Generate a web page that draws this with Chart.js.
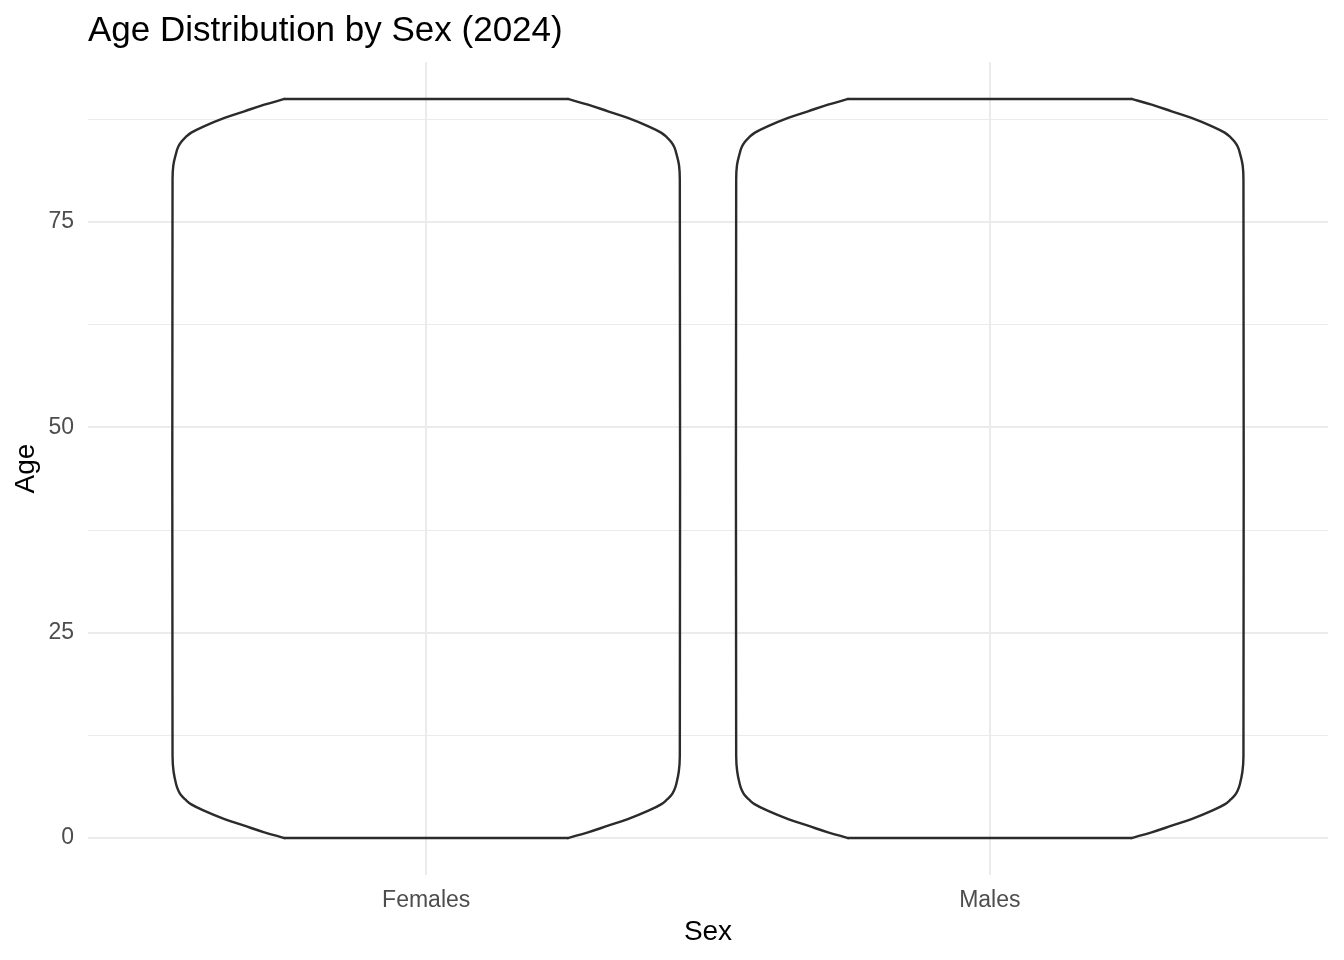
<!DOCTYPE html>
<html>
<head>
<meta charset="utf-8">
<script src="https://cdn.jsdelivr.net/npm/chart.js@4.4.1/dist/chart.umd.min.js"></script>
<style>
  html, body { margin: 0; padding: 0; background: #ffffff; }
  #wrap { width: 1344px; height: 960px; }
</style>
</head>
<body>
<div id="wrap"><canvas id="c" width="1344" height="960"></canvas></div>
<script>
// ---- data ----
const categories = ["Females", "Males"];
const yTickValues = [0, 25, 50, 75];
const yMinorValues = [12.5, 37.5, 62.5, 87.5];

// ages at which violin density (relative width, max = 1) was read
const femaleAges    = [0, 0.7, 1.5, 2.3, 3.3, 4.1, 4.7, 5.2, 5.85, 6.45, 8.1, 10, 80, 81.9, 83.5, 84.15, 84.75, 85.3, 85.9, 86.7, 87.7, 88.5, 89.3, 90];
const femaleDensity = [0.559, 0.638, 0.717, 0.795, 0.874, 0.926, 0.950, 0.966, 0.978, 0.985, 0.996, 1.0, 1.0, 0.997, 0.985, 0.978, 0.966, 0.950, 0.926, 0.874, 0.795, 0.717, 0.638, 0.559];
const maleAges      = [0, 0.7, 1.5, 2.3, 3.3, 4.1, 4.7, 5.2, 5.85, 6.45, 8.1, 10, 80, 81.9, 83.5, 84.15, 84.75, 85.3, 85.9, 86.7, 87.7, 88.5, 89.3, 90];
const maleDensity   = [0.559, 0.638, 0.717, 0.795, 0.874, 0.926, 0.950, 0.966, 0.978, 0.985, 0.996, 1.0, 1.0, 0.997, 0.985, 0.978, 0.966, 0.950, 0.926, 0.874, 0.795, 0.717, 0.638, 0.559];

// ---- build violin outlines ----
const HALF = 0.45;           // half of violin width in category units
const LINE = '#2B2B2B';
function violinSets(center, ages, dens) {
  const right = ages.map((a, i) => ({ x: center + HALF * dens[i], y: a }));
  const left  = ages.map((a, i) => ({ x: center - HALF * dens[i], y: a }));
  const n = ages.length - 1;
  const base = { type: 'line', borderColor: LINE, borderWidth: 2.4, pointRadius: 0, fill: false, showLine: true,
                 borderJoinStyle: 'round', borderCapStyle: 'round' };
  return [
    Object.assign({}, base, { data: right, tension: 0.4 }),
    Object.assign({}, base, { data: left, tension: 0.4 }),
    Object.assign({}, base, { data: [left[0], right[0]], tension: 0 }),
    Object.assign({}, base, { data: [left[n], right[n]], tension: 0 })
  ];
}
const datasets = [].concat(
  violinSets(1, femaleAges, femaleDensity),
  violinSets(2, maleAges, maleDensity)
);

const FONT = "'Liberation Sans', Arial, Helvetica, sans-serif";
const GRID = '#EBEBEB';

new Chart(document.getElementById('c'), {
  type: 'scatter',
  data: { datasets },
  options: {
    responsive: false,
    animation: false,
    devicePixelRatio: 1,
    layout: { padding: { left: 0, right: 16, top: 0, bottom: 0 } },
    plugins: {
      legend: { display: false },
      tooltip: { enabled: false },
      title: {
        display: true,
        text: 'Age Distribution by Sex (2024)',
        align: 'start',
        fullSize: false,
        color: '#000000',
        font: { family: FONT, size: 35, weight: 'normal', lineHeight: 1.2 },
        padding: { top: 10, bottom: 10 }
      }
    },
    scales: {
      x: {
        type: 'linear',
        min: 0.4,
        max: 2.6,
        afterBuildTicks: (s) => { s.ticks = categories.map((c, i) => ({ value: i + 1 })); },
        afterFit: (s) => { s.height = 85; },
        ticks: {
          padding: 12,
          color: '#4D4D4D',
          font: { family: FONT, size: 23 },
          callback: (v) => categories[Math.round(v) - 1] || ''
        },
        grid: { color: GRID, lineWidth: 2, drawTicks: false },
        border: { display: false },
        title: {
          display: true,
          text: 'Sex',
          color: '#000000',
          font: { family: FONT, size: 28, lineHeight: 1.2 },
          padding: { top: 0, bottom: 11 }
        }
      },
      y: {
        type: 'linear',
        min: -4.5,
        max: 94.5,
        afterBuildTicks: (s) => {
          s.ticks = yTickValues.concat(yMinorValues).sort((a, b) => a - b).map(v => ({ value: v }));
        },
        afterFit: (s) => { s.width = 88; },
        ticks: {
          padding: 14,
          color: '#4D4D4D',
          font: { family: FONT, size: 23 },
          callback: (v) => yTickValues.includes(v) ? String(v) : ''
        },
        grid: {
          drawTicks: false,
          color: GRID,
          lineWidth: (ctx) => (ctx.tick && yTickValues.includes(ctx.tick.value)) ? 2 : 1
        },
        border: { display: false },
        title: {
          display: true,
          text: 'Age',
          color: '#000000',
          font: { family: FONT, size: 28, lineHeight: 1.2 },
          padding: { top: 9, bottom: 0 }
        }
      }
    }
  }
});
</script>
</body>
</html>
